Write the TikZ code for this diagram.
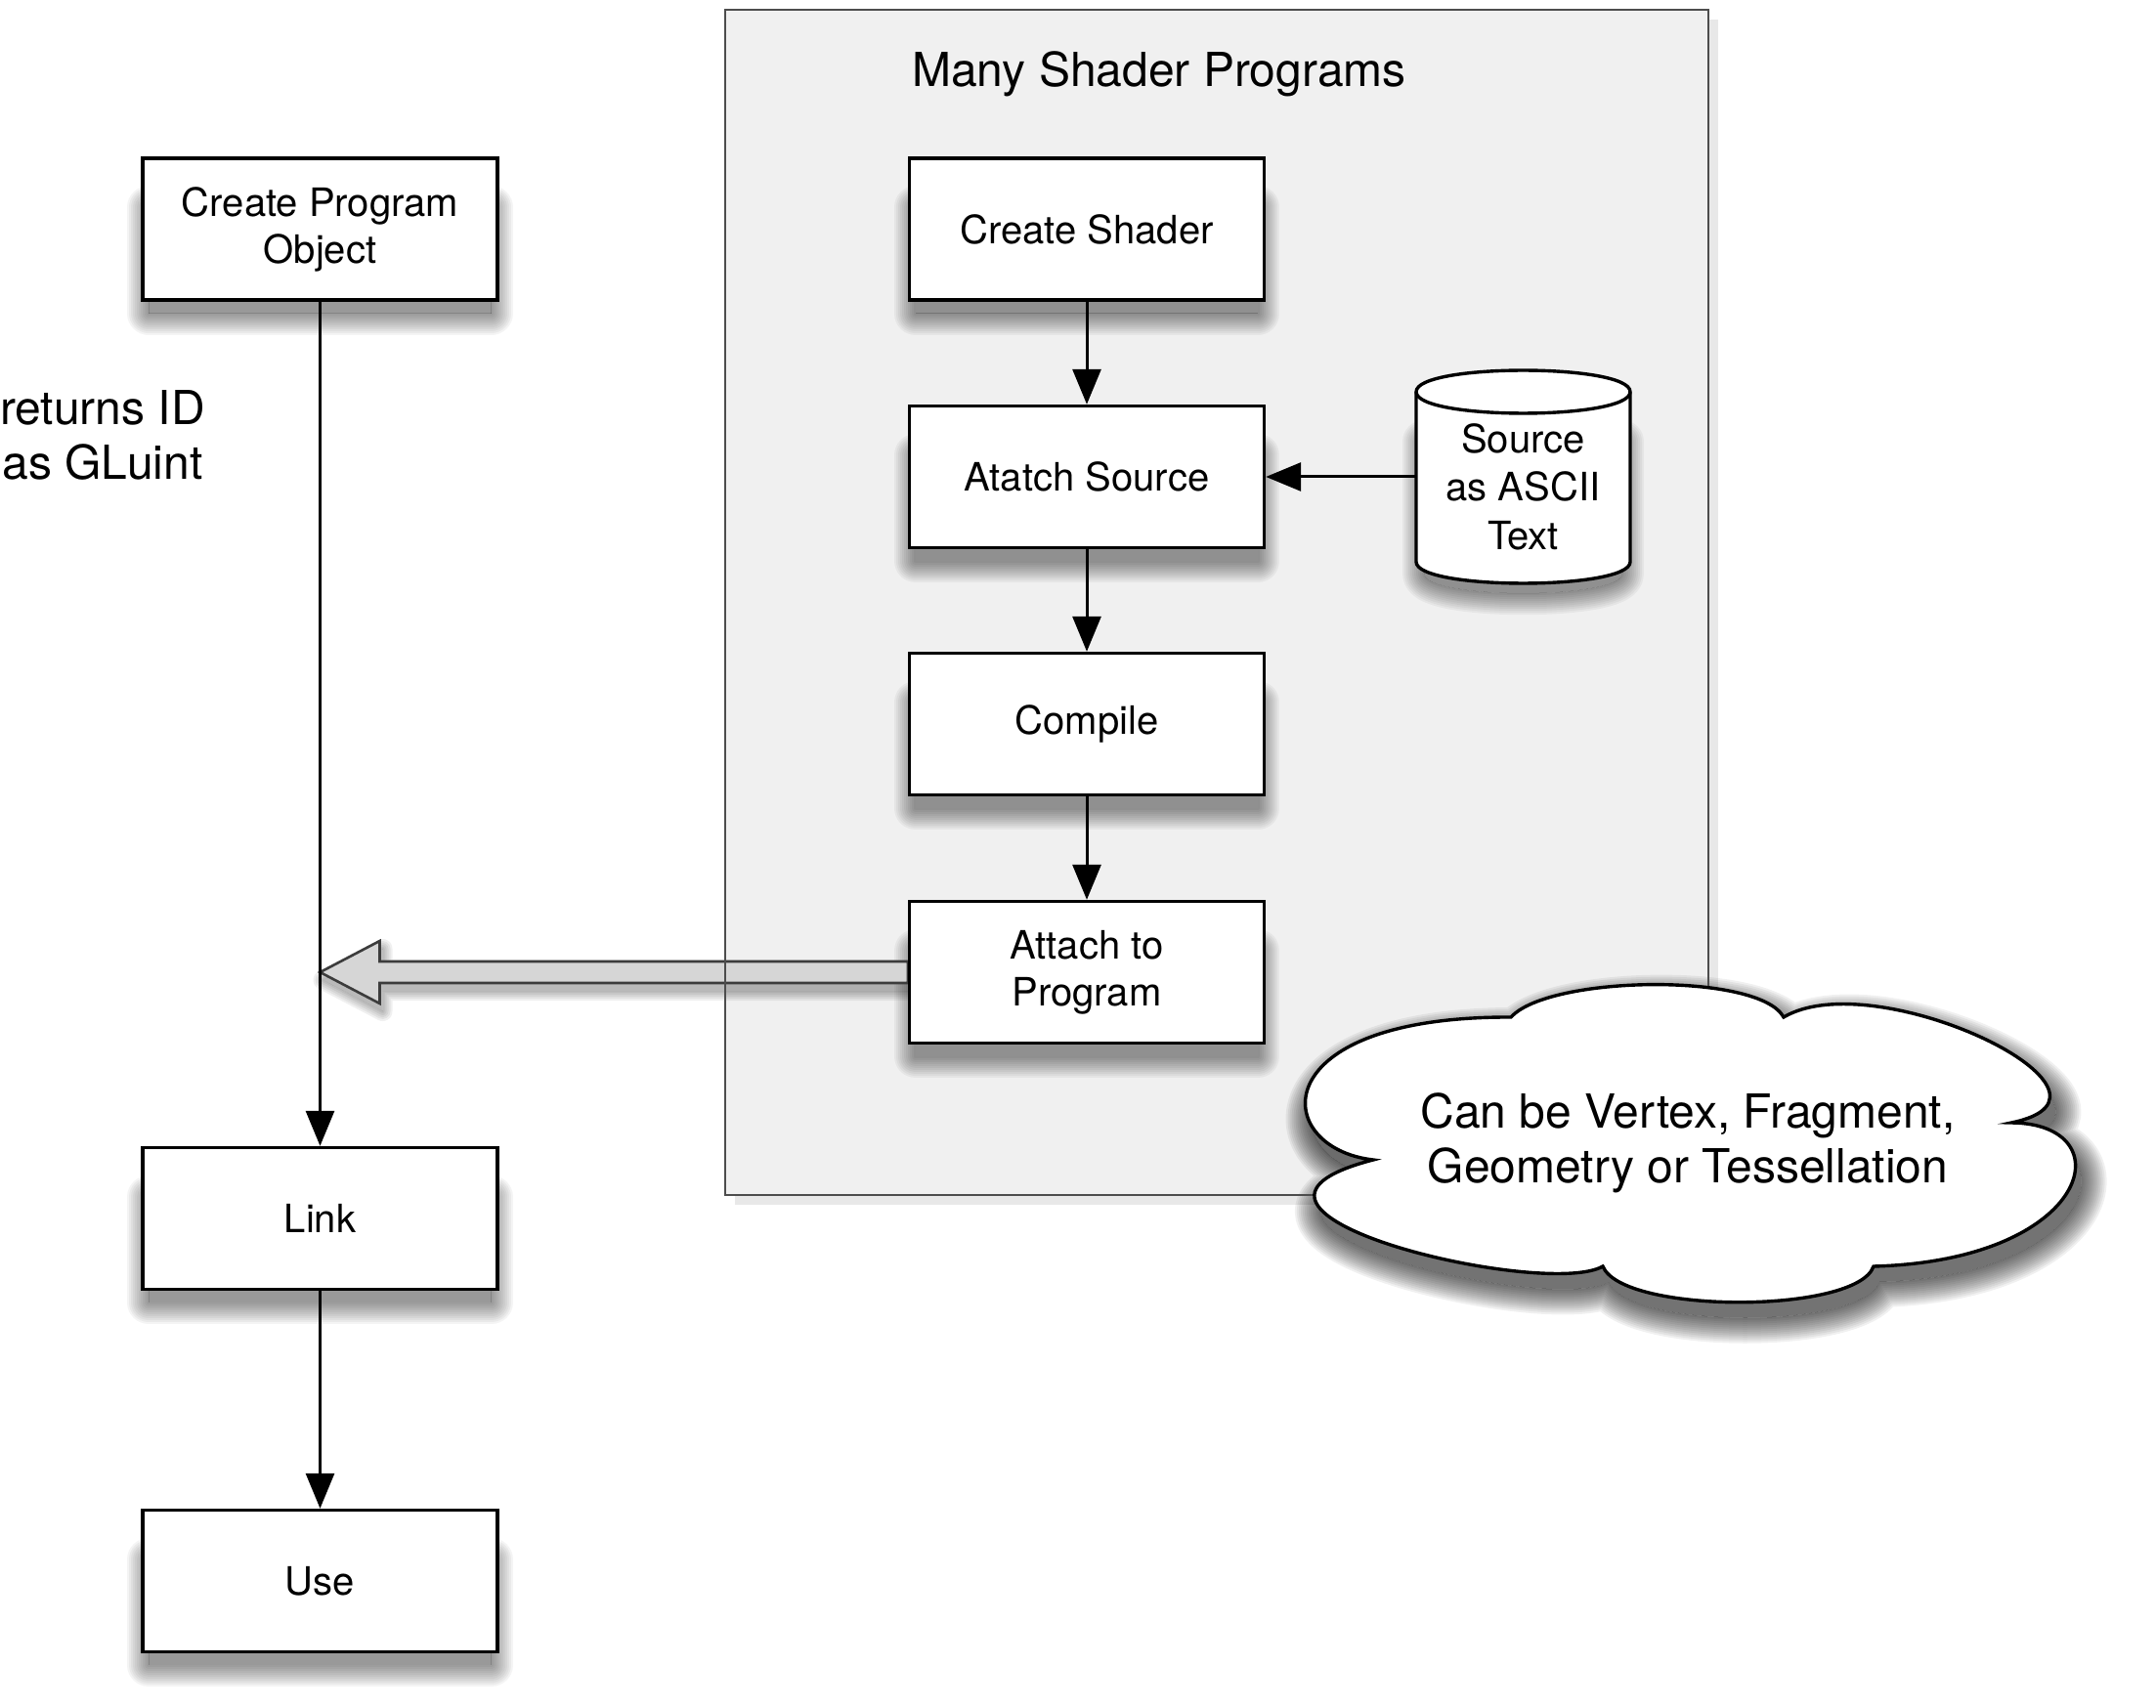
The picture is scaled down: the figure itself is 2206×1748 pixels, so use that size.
\documentclass[tikz,border=0pt]{standalone}
\usepackage{fontspec}
\setmainfont{TeX Gyre Heros}
\usetikzlibrary{arrows.meta,calc}
\pgfdeclarelayer{bg}
\pgfdeclarelayer{shadow}
\pgfdeclarelayer{mid}
\pgfsetlayers{bg,shadow,mid,main}
\definecolor{frame}{RGB}{77,77,77}
\definecolor{panel}{RGB}{240,240,240}
\definecolor{panelshadow}{RGB}{232,232,232}
\definecolor{hollowfill}{RGB}{214,214,214}
\definecolor{hollowline}{RGB}{60,60,60}
% #1 path, #2 dx, #3 dy, #4 stroke widths (px), #5 alpha per stroke, #6 fill opacity
\newcommand\softshadow[6]{%
  \begin{scope}[transform canvas={shift={(#2,#3)}}]
    \fill[black,opacity=#6] #1;
    \begin{scope}[even odd rule]
      \clip (-300,-300) rectangle (2600,2100) #1;
      \foreach \w in {#4}{\draw[black,opacity=#5,line width=\w*0.5pt,line join=round] #1;}
    \end{scope}
  \end{scope}}
\def\cloudpath{(1405,1187) .. controls (1300,1175) and (1290,1040) .. (1546,1041)
  .. controls (1585,998) and (1800,995) .. (1825,1041)
  .. controls (1920,985) and (2200,1120) .. (2058,1149)
  .. controls (2175,1150) and (2140,1290) .. (1917,1296)
  .. controls (1900,1345) and (1660,1345) .. (1640,1296)
  .. controls (1580,1330) and (1200,1240) .. (1405,1187) -- cycle}
\def\cylpath{(1449,401) -- (1449,575) .. controls (1449,604.3) and (1668,604.3) .. (1668,575)
  -- (1668,401) .. controls (1668,371.7) and (1449,371.7) .. (1449,401) -- cycle}
\def\cylshadowpath{(1457,440) -- (1457,575) .. controls (1457,602) and (1660,602) .. (1660,575)
  -- (1660,440) -- cycle}
\begin{document}
\begin{tikzpicture}[x=0.5pt,y=-0.5pt,
  box/.style={draw=black,line width=1.7pt,fill=white,minimum width=181.5pt,minimum height=72.5pt,
    inner sep=0pt,align=center,font=\fontsize{20pt}{24pt}\selectfont},
  conn/.style={draw=black,line width=1.5pt,-{Triangle[length=18pt,width=14.5pt]}},
  bigtext/.style={font=\fontsize{24pt}{28pt}\selectfont,align=center,inner sep=0pt},
  hollow/.style={fill=hollowfill,draw=hollowline,line width=1.3pt,line join=miter},
]
\useasboundingbox (0,0) rectangle (2206,1748);

% group panel
\node[draw=frame,line width=1.4pt,minimum width=503pt,minimum height=606.5pt,inner sep=0pt,outer sep=0pt]
  (group) at (1245,616.5) {};
\begin{pgfonlayer}{bg}
  \fill[panelshadow] ($(group.north west)+(10,10)$) rectangle ($(group.south east)+(10,10)$);
  \fill[panel] (group.north west) rectangle (group.south east);
\end{pgfonlayer}
\node[font=\fontsize{24pt}{28pt}\selectfont,inner sep=0pt] (title) at (1186,76) {Many Shader Programs};

% boxes
\node[box] (cpo) at (327.5,234.5) {Create Program\\Object};
\node[box] (link) at (327.5,1247) {Link};
\node[box] (use) at (327.5,1618) {Use};
\node[box] (cs) at (1112,234.5) {Create Shader};
\node[box] (as) at (1112,488) {Atatch Source};
\node[box] (comp) at (1112,741) {Compile};
\node[box] (ap) at (1112,995) {Attach to\\Program};

% cylinder
\node[minimum width=109.5pt,minimum height=109pt,inner sep=0pt,outer sep=0pt] (src) at (1558.5,488) {};
\filldraw[fill=white,draw=black,line width=1.7pt] \cylpath;
\draw[line width=1.7pt] (1449,401) .. controls (1449,430.3) and (1668,430.3) .. (1668,401);
\node[font=\fontsize{20pt}{24.75pt}\selectfont,align=center,inner sep=0pt] (srctxt) at (1558.5,498) {Source\\as ASCII\\Text};

% shadows
\begin{pgfonlayer}{shadow}
  \foreach \n in {cpo,link,use,cs,as,comp,ap}{%
    \softshadow{($(\n.north west)+(8,40)$) rectangle ($(\n.south east)+(-8,0)$)}{0}{12}{44,40,36,32,28,24,20,16,12,8,4}{0.045}{0.4}}
  \softshadow{\cylshadowpath}{0}{12}{44,40,36,32,28,24,20,16,12,8,4}{0.045}{0.4}
  \softshadow{\cloudpath}{6}{16}{52,48,44,40,36,32,28,24,20,16,12,8,4}{0.06}{0.55}
\end{pgfonlayer}

% connectors
\draw[conn] (cs) -- (as);
\draw[conn] (as) -- (comp);
\draw[conn] (comp) -- (ap);
\draw[conn] (src.west) -- (as.east);
\draw[conn] (cpo) -- (link);
\draw[conn] (link) -- (use);

% hollow arrow
\coordinate (htip) at (cpo.south |- ap.west);
\def\hollowpath{(htip) -- ($(htip)+(61,-32)$) -- ($(htip)+(61,-11)$) -- ($(ap.west)+(0,-11)$)
  -- ($(ap.west)+(0,11)$) -- ($(htip)+(61,11)$) -- ($(htip)+(61,32)$) -- cycle}
\begin{pgfonlayer}{shadow}
  \softshadow{\hollowpath}{3}{8}{20,16,12,8,4}{0.06}{0.27}
\end{pgfonlayer}
\begin{pgfonlayer}{mid}
  \path[hollow] \hollowpath;
\end{pgfonlayer}

% cloud
\filldraw[fill=white,draw=black,line width=1.7pt,line join=miter] \cloudpath;
\node[bigtext] (cloudtxt) at (1727,1170) {Can be Vertex, Fragment,\\Geometry or Tessellation};

% side note
\node[bigtext] (ret) at (105,445) {returns ID\\as GLuint};
\end{tikzpicture}
\end{document}
